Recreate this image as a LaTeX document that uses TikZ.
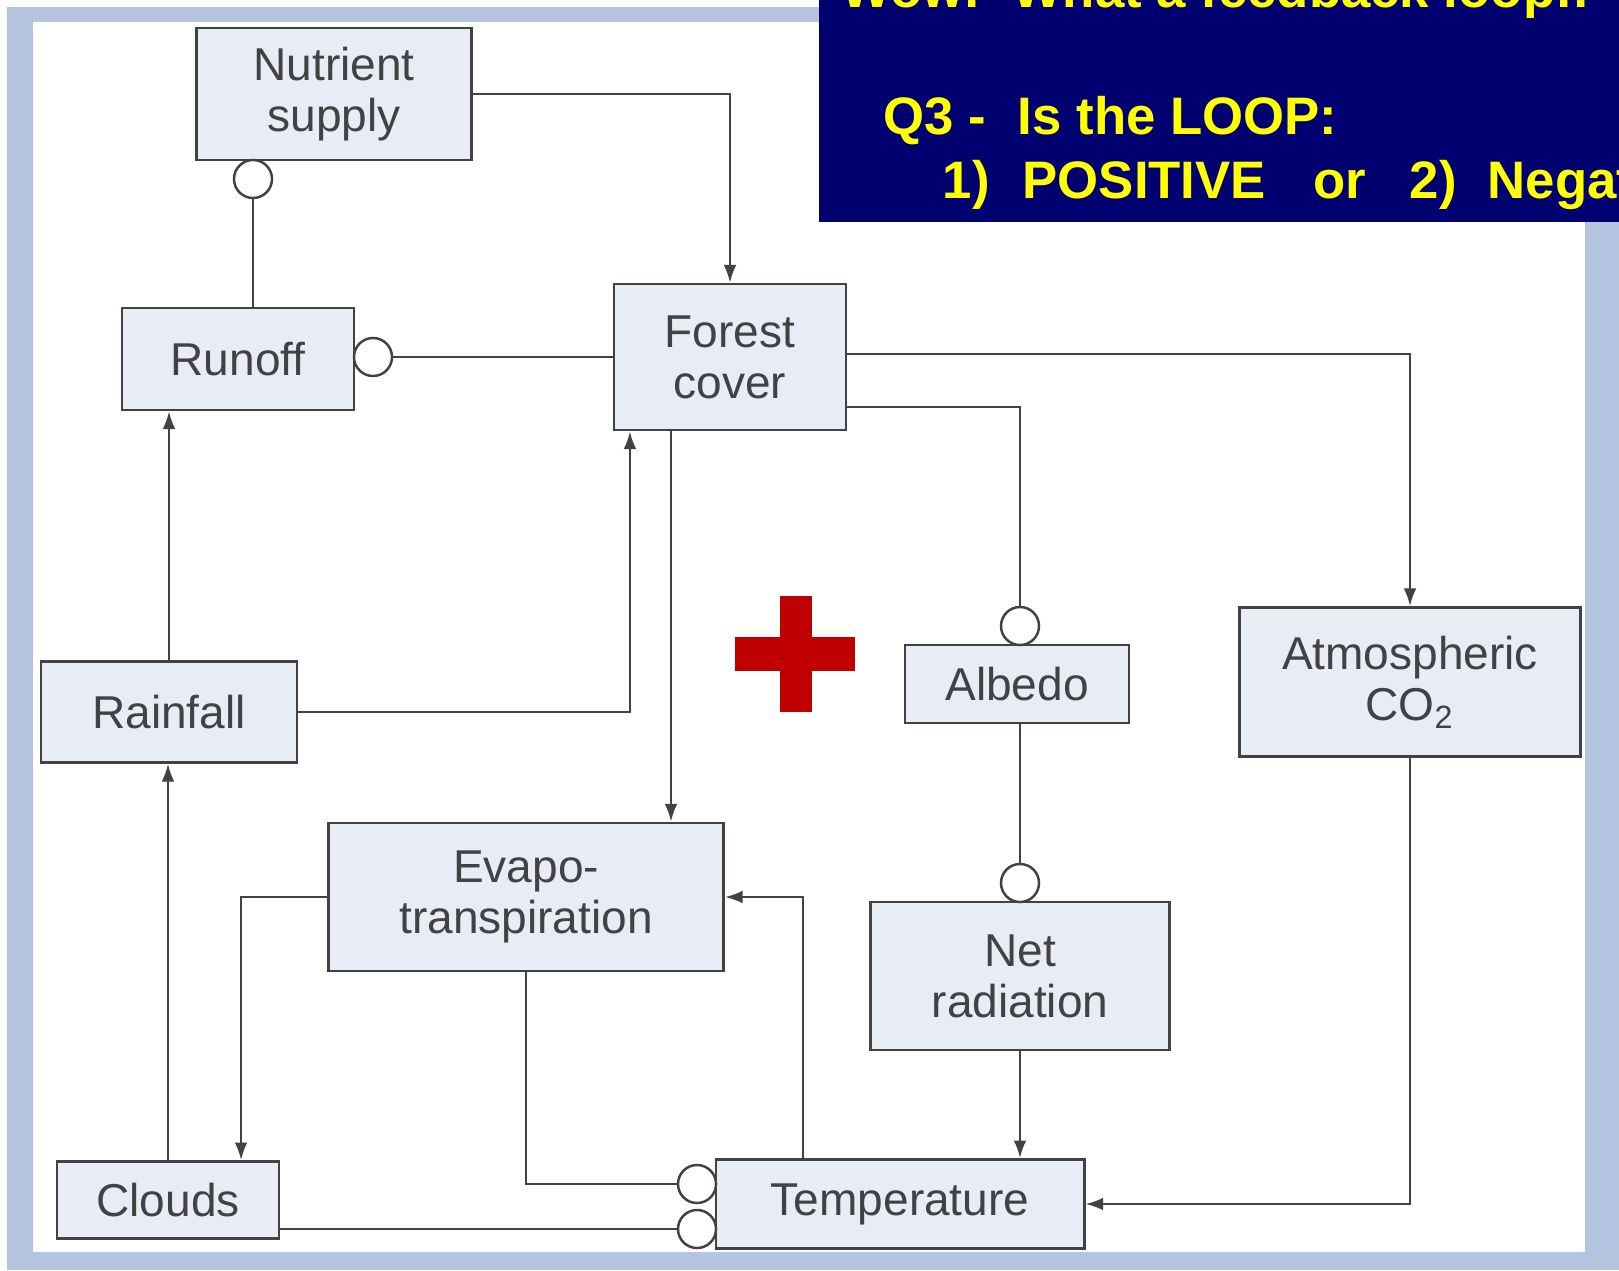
\documentclass[tikz,border=0pt]{standalone}
\usepackage{fontspec}
\setmainfont{Liberation Sans}
\usetikzlibrary{arrows.meta,positioning}
\definecolor{FrameBlue}{RGB}{181,196,224}
\definecolor{BoxFill}{RGB}{232,236,244}
\definecolor{InkGray}{RGB}{66,66,66}
\definecolor{SlideNavy}{RGB}{0,0,112}
\definecolor{SlideYellow}{RGB}{255,255,0}
\definecolor{CrossRed}{RGB}{192,0,0}

\begin{document}
\begin{tikzpicture}[x=0.01cm,y=-0.01cm,
  box/.style={draw=InkGray,line width=0.8pt,fill=BoxFill,text=InkGray,align=center,inner sep=0pt,font=\fontsize{13.1}{14.5}\selectfont},
  neg/.style={circle,draw=InkGray,line width=0.7pt,fill=white,minimum size=0.38cm,inner sep=0pt},
  lnk/.style={draw=InkGray,line width=0.6pt},
  arr/.style={lnk,-{Latex[length=5pt,width=3.6pt]}},
  qtxt/.style={anchor=base west,inner sep=0pt,text=SlideYellow,font=\fontsize{15}{18}\selectfont\bfseries}]
\useasboundingbox (0,0) rectangle (1619,1270);
% frame
\fill[white] (0,0) rectangle (1619,1270);
\fill[FrameBlue] (7,7) rectangle (1619,1270);
\fill[white] (33,22) rectangle (1585,1252);

% boxes
\node[box,minimum width=2.75cm,minimum height=1.32cm,text depth=0.1cm] (nut) at (334,94) {Nutrient\\supply};
\node[box,minimum width=2.32cm,minimum height=1.02cm] (run) at (238,359) {Runoff};
\node[box,minimum width=2.32cm,minimum height=1.46cm] (for) at (730,357) {Forest\\cover};
\node[box,minimum width=2.56cm,minimum height=1.01cm] (rain) at (169,712) {Rainfall};
\node[box,minimum width=2.24cm,minimum height=0.78cm] (alb) at (1017,684) {Albedo};
\node[box,minimum width=3.41cm,minimum height=1.49cm] (co2) at (1410,682) {Atmospheric\\CO\textsubscript{2}};
\node[box,minimum width=3.95cm,minimum height=1.48cm] (evap) at (526,897) {Evapo-\\transpiration};
\node[box,minimum width=2.99cm,minimum height=1.48cm] (net) at (1020,976) {Net\\radiation};
\node[box,minimum width=2.22cm,minimum height=0.77cm] (cld) at (168,1200) {Clouds};
\node[box,minimum width=3.68cm,minimum height=0.89cm] (tmp) at (900,1204) {Temperature};

% negative links end in open circles
\node[neg] (nNut) at (253,179) {};
\node[neg] (nRun) at (373,357) {};
\node[neg] (nAlb) at (1020,626) {};
\node[neg] (nNet) at (1020,883) {};
\node[neg] (nTmpA) at (697,1184) {};
\node[neg] (nTmpB) at (697,1229) {};

% connectors
\draw[arr] (nut.east) -| (for.north);
\draw[lnk] (run.north -| nNut) -- (nNut.south);
\draw[lnk] (for.west) -- (nRun.east);
\draw[arr] (rain.north) -- (rain.north |- run.south);
\draw[arr] (rain.east) -| ([xshift=-1cm]for.south);
\draw[arr] ([xshift=-0.59cm]for.south) -- ([xshift=-0.59cm]for.south |- evap.north);
\draw[lnk] ([yshift=-0.5cm]for.east) -| (nAlb.north);
\draw[arr] ([yshift=0.03cm]for.east) -| (co2.north);
\draw[lnk] (alb.south -| nNet) -- (nNet.north);
\draw[arr] (net.south) -- (net.south |- tmp.north);
\draw[arr] (co2.south) |- (tmp.east);
\draw[arr] ([xshift=-0.97cm]tmp.north) |- (evap.east);
\draw[arr] (evap.west) -| ([xshift=0.73cm]cld.north);
\draw[arr] (cld.north) -- (cld.north |- rain.south);
\draw[lnk] (evap.south) |- (nTmpA.west);
\draw[lnk] (cld.east |- nTmpB) -- (nTmpB.west);

% plus sign
\fill[CrossRed] (735,637) rectangle (855,671);
\fill[CrossRed] (780,596) rectangle (812,712);

% question banner
\fill[SlideNavy] (819,0) rectangle (1619,222);
\node[qtxt] (wow) at (841,8) {Wow!\hspace{9pt}What a feedback loop!!};
\node[qtxt] (q3) at (883,135) {Q3 -\hspace{9pt}Is the LOOP:};
\node[qtxt] (opts) at (942,199) {1)\hspace{9.4pt}POSITIVE\hspace{13.4pt}or\hspace{12.5pt}2)\hspace{8.8pt}Negative?};
\end{tikzpicture}
\end{document}
